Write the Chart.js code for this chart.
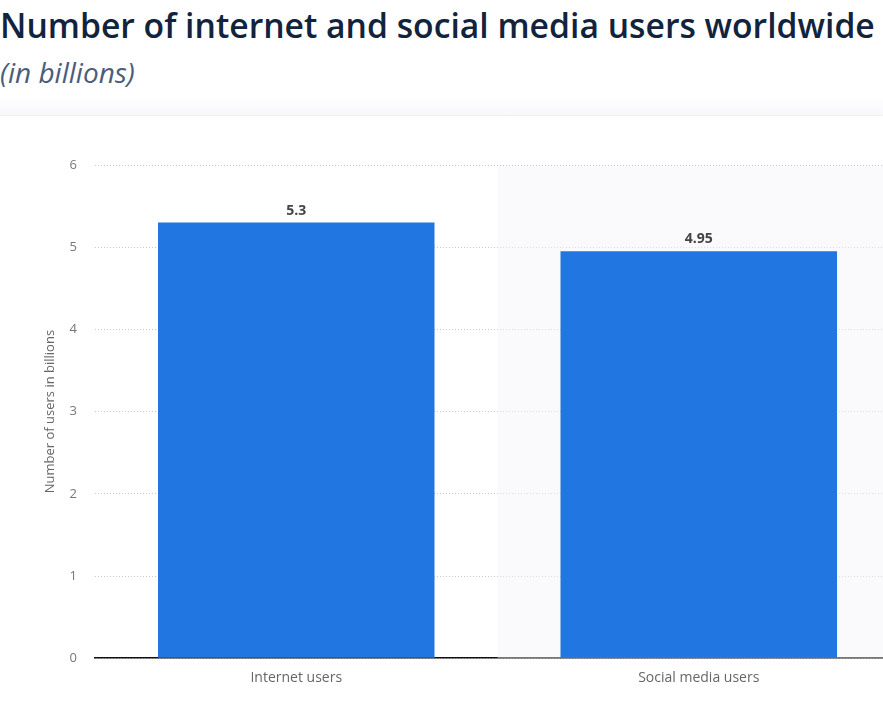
<!DOCTYPE html>
<html>
<head>
<meta charset="utf-8">
<script src="https://cdn.jsdelivr.net/npm/chart.js@4"></script>
<style>
body{margin:0;background:#fff;overflow:hidden;width:883px;height:705px;position:relative;font-family:"Open Sans",sans-serif}
#title{position:absolute;left:0;top:2px;margin:0;font-size:33.7px;font-weight:600;color:#12233d;white-space:nowrap;line-height:normal}
#sub{position:absolute;left:0;top:53px;font-size:28px;font-style:italic;color:#4a5d7c;line-height:normal}
#band{position:absolute;left:0;top:97px;width:883px;height:18px;background:linear-gradient(#fff,#f8f7fa);border-bottom:1px solid #f0eff3}
#box{position:absolute;left:0;top:120px;width:905px;height:585px}
</style>
</head>
<body>
<h1 id="title">Number of internet and social media users worldwide</h1>
<div id="sub">(in billions)</div>
<div id="band"></div>
<div id="box"><canvas id="chart"></canvas></div>
<script>

/* DATA */

const categories = ["Internet users","Social media users"]

const users = [5.3,4.95]

const yTicks = [0,1,2,3,4,5,6]


/* light band behind the second category */

const hoverBand = {

id:"hoverBand",

beforeDatasetsDraw(chart){

const x = chart.scales.x
const area = chart.chartArea
const half = (x.getPixelForValue(1)-x.getPixelForValue(0))/2
const ctx = chart.ctx

ctx.save()
ctx.fillStyle = "rgba(244,241,247,0.45)"
ctx.fillRect(x.getPixelForValue(1)-half,area.top+1,half*2,area.bottom-area.top-1)
ctx.restore()

}

}


/* value labels on top of bars */

const barLabels = {

id:"barLabels",

afterDatasetsDraw(chart){

const ctx = chart.ctx
const meta = chart.getDatasetMeta(0)

ctx.save()
ctx.font = "bold 14px 'Open Sans'"
ctx.fillStyle = "#444"
ctx.textAlign = "center"
ctx.textBaseline = "bottom"

meta.data.forEach((bar,i)=>{

ctx.fillText(String(users[i]),bar.x,bar.y-5)

})

ctx.restore()

}

}


Chart.defaults.font.family = "'Open Sans', sans-serif"

const chart = new Chart(

document.getElementById("chart"),

{

type:"bar",

data:{

labels:categories,

datasets:[{

data:users,

backgroundColor:"#2176e2",

borderWidth:0,

barPercentage:0.687,

categoryPercentage:1

}]

},

options:{

responsive:true,
maintainAspectRatio:false,
animation:false,

layout:{padding:{top:45,left:39,right:5,bottom:8}},

plugins:{legend:{display:false},tooltip:{enabled:false}},

scales:{

x:{

grid:{display:false,drawTicks:false},

border:{display:true,color:"#111",width:1.5},

ticks:{color:"#666",font:{size:14},padding:11}

},

y:{

min:0,
max:6,

afterBuildTicks(axis){

axis.ticks = yTicks.map(v=>({value:v}))

},

afterFit(axis){

axis.width = 56

},

grid:{color:"#c8c8c8",drawTicks:false},

border:{display:false,dash:[1,2]},

ticks:{color:"#777",font:{size:13},padding:18},

title:{display:true,text:"Number of users in billions",color:"#666",font:{size:13},padding:{top:3,bottom:4}}

}

}

},

plugins:[hoverBand,barLabels]

}

)

</script>
</body>
</html>
